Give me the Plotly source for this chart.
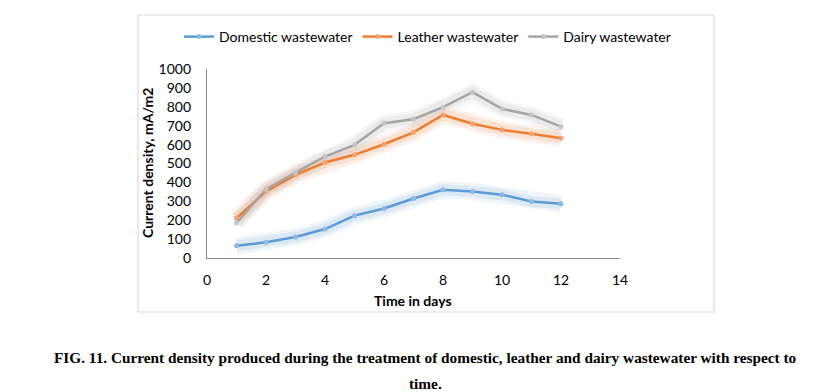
import plotly.graph_objects as go

days = [1, 2, 3, 4, 5, 6, 7, 8, 9, 10, 11, 12]
domestic = [65, 83, 111, 153, 224, 262, 315, 361, 352, 335, 299, 287]
leather = [211, 352, 440, 505, 546, 602, 665, 757, 710, 678, 657, 634]
dairy = [185, 364, 452, 537, 599, 713, 734, 798, 877, 789, 757, 695]

series = [
    ("Domestic wastewater", domestic, "#5B9BD5", "#8DB9E6"),
    ("Leather wastewater", leather, "#ED7D31", "#F3A36F"),
    ("Dairy wastewater", dairy, "#A5A5A5", "#C4C4C4"),
]

fig = go.Figure()
# glow layers
for name, vals, col, light in series:
    for w, op in [(17, 0.09), (11, 0.13)]:
        fig.add_trace(go.Scatter(x=days, y=vals, mode="lines", showlegend=False,
                                 hoverinfo="skip", opacity=op,
                                 line=dict(color=col, width=w)))
for name, vals, col, light in series:
    fig.add_trace(go.Scatter(x=days, y=vals, mode="lines+markers", name=name,
                             line=dict(color=col, width=2.5),
                             marker=dict(color=light, size=5, symbol="circle")))

W, H = 834, 392
OFF = 8  # page body offset
L, R, T, B = 207 - OFF, 620 - OFF, 69 - OFF, 258 - OFF
pw, ph = R - L, B - T


def px(x):
    return (x - OFF - L) / pw


def py(y):
    return (B - (y - OFF)) / ph


fig.add_shape(type="rect", xref="paper", yref="paper",
              x0=px(138), x1=px(714), y0=py(312), y1=py(15),
              line=dict(color="#D9D9D9", width=1.2), layer="below")

fig.update_layout(
    width=W, height=H,
    margin=dict(l=L, r=W - R, t=T, b=H - B, autoexpand=False),
    paper_bgcolor="white", plot_bgcolor="white",
    font=dict(family="Lato", size=14, color="#000000"),
    showlegend=True,
    legend=dict(orientation="h", x=px(179), xanchor="left", y=py(37), yanchor="middle",
                font=dict(family="Lato", size=14), itemwidth=30, tracegroupgap=0,
                bgcolor="rgba(0,0,0,0)"),
    xaxis=dict(range=[0, 14], tickvals=[0, 2, 4, 6, 8, 10, 12, 14],
               showgrid=False, zeroline=False, showline=True, linecolor="#888888", linewidth=1.2,
               ticks="outside", ticklen=9, tickcolor="rgba(0,0,0,0)", automargin=False,
               tickfont=dict(family="Lato", size=14)),
    yaxis=dict(range=[0, 1000], tickvals=list(range(0, 1001, 100)),
               showgrid=False, zeroline=False, showline=True, linecolor="#888888", linewidth=1.2,
               ticks="outside", ticklen=12, tickcolor="rgba(0,0,0,0)", automargin=False,
               tickfont=dict(family="Lato", size=14)),
)

fig.add_annotation(text="<b>Time in days</b>", xref="paper", yref="paper",
                   x=px(413), y=py(300), showarrow=False, xanchor="center", yanchor="middle",
                   font=dict(family="Lato", size=14))
fig.add_annotation(text="<b>Current density, mA/m2</b>", xref="paper", yref="paper",
                   x=px(147), y=py(163), showarrow=False, xanchor="center", yanchor="middle",
                   textangle=-90, font=dict(family="Lato", size=14))
fig.add_annotation(text="<b>FIG. 11. Current density produced during the treatment of domestic, leather and dairy wastewater with respect to</b>",
                   xref="paper", yref="paper", x=px(425), y=py(357), showarrow=False,
                   xanchor="center", yanchor="middle",
                   font=dict(family="Liberation Serif", size=15.3))
fig.add_annotation(text="<b>time.</b>", xref="paper", yref="paper", x=px(425), y=py(383),
                   showarrow=False, xanchor="center", yanchor="middle",
                   font=dict(family="Liberation Serif", size=15.3))

fig.write_html("out.html")
